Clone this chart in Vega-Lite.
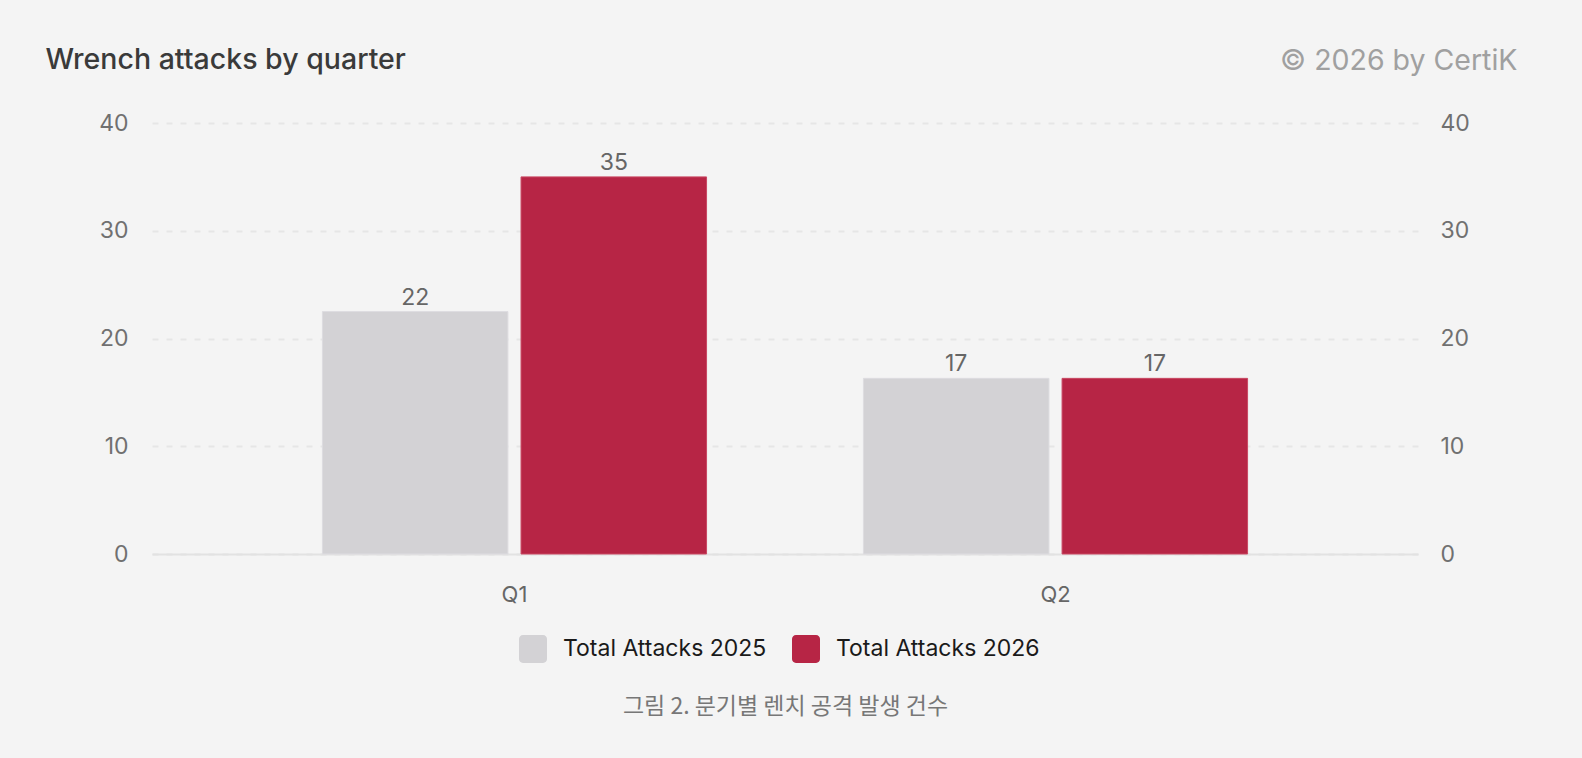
{
  "$schema": "https://vega.github.io/schema/vega-lite/v6.json",
  "autosize": "none",
  "width": 1266,
  "height": 431,
  "padding": {"left": 152, "top": 123, "right": 164, "bottom": 204},
  "background": "#f4f4f4",
  "config": {
    "font": "Inter",
    "view": {"stroke": null}
  },
  "data": {
    "values": [
      {"quarter": "Q1", "series": "Total Attacks 2025", "value": 22.5, "label": "22"},
      {"quarter": "Q1", "series": "Total Attacks 2026", "value": 35, "label": "35"},
      {"quarter": "Q2", "series": "Total Attacks 2025", "value": 16.3, "label": "17"},
      {"quarter": "Q2", "series": "Total Attacks 2026", "value": 16.3, "label": "17"}
    ]
  },
  "encoding": {
    "x": {
      "field": "quarter",
      "type": "nominal",
      "scale": {"paddingInner": 0.29, "paddingOuter": 0.315},
      "axis": {
        "title": "그림 2. 분기별 렌치 공격 발생 건수",
        "titleFont": "Noto Sans CJK KR",
        "titleFontSize": 23,
        "titleFontWeight": "normal",
        "titleColor": "#777777",
        "titleBaseline": "alphabetic",
        "titleY": 159,
        "labelAngle": 0,
        "labelFontSize": 22,
        "labelColor": "#666666",
        "labelPadding": 30,
        "ticks": false,
        "domain": true,
        "domainColor": "#e2e2e2",
        "domainWidth": 2,
        "grid": false
      }
    },
    "xOffset": {
      "field": "series",
      "type": "nominal",
      "scale": {"paddingInner": 0.066}
    }
  },
  "layer": [
    {
      "mark": {"type": "bar", "strokeWidth": 1},
      "encoding": {
        "y": {
          "field": "value",
          "type": "quantitative",
          "scale": {"domain": [0, 40]},
          "axis": {
            "title": "Wrench attacks by quarter",
            "titleAngle": 0,
            "titleAlign": "left",
            "titleBaseline": "alphabetic",
            "titleX": -107,
            "titleY": -55,
            "titleFontSize": 28.5,
            "titleFontWeight": 500,
            "titleColor": "#3a3a3a",
            "orient": "left",
            "values": [0, 10, 20, 30, 40],
            "ticks": false,
            "domain": false,
            "labelFontSize": 23,
            "labelColor": "#707070",
            "labelPadding": 24,
            "grid": true,
            "gridColor": "#e6e6e6",
            "gridDash": [6, 8],
            "gridWidth": 2
          }
        },
        "color": {
          "field": "series",
          "type": "nominal",
          "scale": {
            "domain": ["Total Attacks 2025", "Total Attacks 2026"],
            "range": ["#d3d2d5", "#b72545"]
          },
          "legend": {
            "title": null,
            "orient": "none",
            "direction": "horizontal",
            "legendX": 367,
            "legendY": 512,
            "padding": 0,
            "symbolType": "M -0.72,-1 H 0.72 A 0.28 0.28 0 0 1 1 -0.72 V 0.72 A 0.28 0.28 0 0 1 0.72 1 H -0.72 A 0.28 0.28 0 0 1 -1 0.72 V -0.72 A 0.28 0.28 0 0 1 -0.72 -1 Z",
            "symbolSize": 784,
            "symbolStrokeWidth": 0,
            "symbolOpacity": 1,
            "labelFontSize": 23,
            "labelColor": "#1a1a1a",
            "labelOffset": 16,
            "columnPadding": 25,
            "labelLimit": 400
          }
        },
        "stroke": {
          "field": "series",
          "type": "nominal",
          "scale": {
            "domain": ["Total Attacks 2025", "Total Attacks 2026"],
            "range": ["#dddce0", "#c94863"]
          },
          "legend": null
        }
      }
    },
    {
      "mark": {"type": "text", "baseline": "alphabetic", "dy": -7, "fontSize": 23, "color": "#666666"},
      "encoding": {
        "y": {
          "field": "value",
          "type": "quantitative",
          "scale": {"domain": [0, 40]},
          "axis": {
            "title": "© 2026 by CertiK",
            "orient": "right",
            "titleAngle": 0,
            "titleAlign": "right",
            "titleBaseline": "alphabetic",
            "titleX": 99,
            "titleY": -54,
            "titleFontSize": 28.5,
            "titleFontWeight": "normal",
            "titleColor": "#a0a0a0",
            "values": [0, 10, 20, 30, 40],
            "ticks": false,
            "domain": false,
            "grid": false,
            "labelFontSize": 23,
            "labelColor": "#707070",
            "labelPadding": 22
          }
        },
        "text": {"field": "label", "type": "nominal"}
      }
    }
  ],
  "resolve": {"scale": {"y": "independent"}}
}
